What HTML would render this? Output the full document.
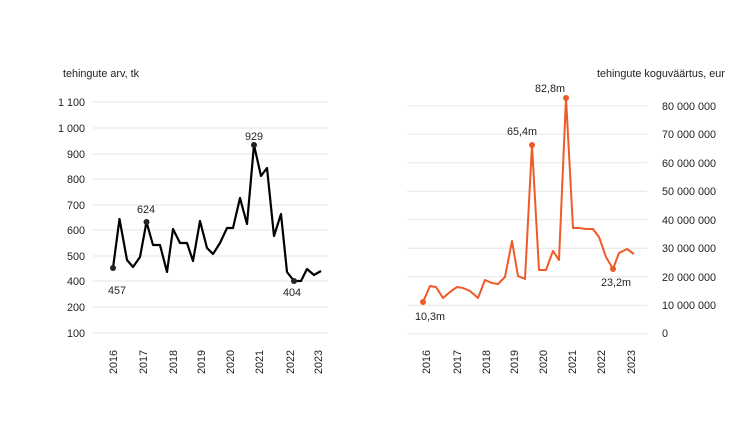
<!DOCTYPE html>
<html><head><meta charset="utf-8"><style>body{margin:0;background:#fff}svg{display:block}text{font-family:"Liberation Sans",sans-serif;font-size:10.8px;fill:#222}</style></head><body>
<svg width="752" height="428" viewBox="0 0 752 428">
<g stroke="#e6e6e6" stroke-width="1">
<line x1="93" x2="328" y1="102" y2="102"/><line x1="93" x2="328" y1="128" y2="128"/><line x1="93" x2="328" y1="154" y2="154"/><line x1="93" x2="328" y1="179" y2="179"/><line x1="93" x2="328" y1="205" y2="205"/><line x1="93" x2="328" y1="230" y2="230"/><line x1="93" x2="328" y1="256" y2="256"/><line x1="93" x2="328" y1="281" y2="281"/><line x1="93" x2="328" y1="307" y2="307"/><line x1="93" x2="328" y1="333" y2="333"/>
<line x1="407" x2="647" y1="105.7" y2="105.7"/><line x1="407" x2="647" y1="134.2" y2="134.2"/><line x1="407" x2="647" y1="162.7" y2="162.7"/><line x1="407" x2="647" y1="191.2" y2="191.2"/><line x1="407" x2="647" y1="219.7" y2="219.7"/><line x1="407" x2="647" y1="248.2" y2="248.2"/><line x1="407" x2="647" y1="276.7" y2="276.7"/><line x1="407" x2="647" y1="305.2" y2="305.2"/><line x1="407" x2="647" y1="333.7" y2="333.7"/>
</g>
<text x="63" y="77">tehingute arv, tk</text>
<g text-anchor="end"><text x="85" y="106">1 100</text><text x="85" y="132">1 000</text><text x="85" y="158">900</text><text x="85" y="183">800</text><text x="85" y="209">700</text><text x="85" y="234">600</text><text x="85" y="260">500</text><text x="85" y="285">400</text><text x="85" y="311">200</text><text x="85" y="337">100</text></g>
<g text-anchor="middle">
<text transform="translate(117,362) rotate(-90)">2016</text><text transform="translate(147,362) rotate(-90)">2017</text><text transform="translate(177,362) rotate(-90)">2018</text><text transform="translate(205,362) rotate(-90)">2019</text><text transform="translate(234,362) rotate(-90)">2020</text><text transform="translate(263,362) rotate(-90)">2021</text><text transform="translate(294,362) rotate(-90)">2022</text><text transform="translate(322,362) rotate(-90)">2023</text>
<text transform="translate(430,362) rotate(-90)">2016</text><text transform="translate(461,362) rotate(-90)">2017</text><text transform="translate(490,362) rotate(-90)">2018</text><text transform="translate(518,362) rotate(-90)">2019</text><text transform="translate(547,362) rotate(-90)">2020</text><text transform="translate(576,362) rotate(-90)">2021</text><text transform="translate(605,362) rotate(-90)">2022</text><text transform="translate(635,362) rotate(-90)">2023</text>
</g>
<polyline fill="none" stroke="#000" stroke-width="2.2" stroke-linejoin="round" points="113,268 119.5,219 127,260 133,267 140,257 146.5,222 153,245 160,245 167,272 173,229 180,243 187,243 193,261 200,221 207,248 213,254 220,243 227,228 233,228 240,198 247,224 254,145 261,176 267,168 274,236 281,214 287,272 294,281 301,281 307,269 314,275 321,271"/>
<circle cx="113" cy="268" r="3" fill="#222"/><circle cx="146.5" cy="222" r="3" fill="#222"/><circle cx="254" cy="145" r="3" fill="#222"/><circle cx="294" cy="281" r="3" fill="#222"/>
<text x="117" y="294" text-anchor="middle">457</text><text x="146" y="213" text-anchor="middle">624</text><text x="254" y="140" text-anchor="middle">929</text><text x="292" y="296" text-anchor="middle">404</text>
<text x="597" y="77">tehingute koguväärtus, eur</text>
<g><text x="662" y="110">80 000 000</text><text x="662" y="138">70 000 000</text><text x="662" y="167">60 000 000</text><text x="662" y="195">50 000 000</text><text x="662" y="224">40 000 000</text><text x="662" y="252">30 000 000</text><text x="662" y="281">20 000 000</text><text x="662" y="309">10 000 000</text><text x="662" y="337">0</text></g>
<polyline fill="none" stroke="#f05a28" stroke-width="2" stroke-linejoin="round" points="423,302 430,286 436,287 443,298 450,292 457,287 463,288 470,291 478,298 485,280 492,283 498,284 505,277 512,241 518,276 525,279 532,145 539,270 546,270 553,251 559,260 566,98 573,228 579,228 586,229 593,229 599,237 606,257 613,269 619,253 627,249 634,254"/>
<g fill="#f05a28"><circle cx="423" cy="302" r="3"/><circle cx="532" cy="145" r="3"/><circle cx="566" cy="98" r="3"/><circle cx="613" cy="269" r="3"/></g>
<text x="430" y="320" text-anchor="middle">10,3m</text><text x="522" y="135" text-anchor="middle">65,4m</text><text x="550" y="92" text-anchor="middle">82,8m</text><text x="616" y="286" text-anchor="middle">23,2m</text>
</svg>
</body></html>
